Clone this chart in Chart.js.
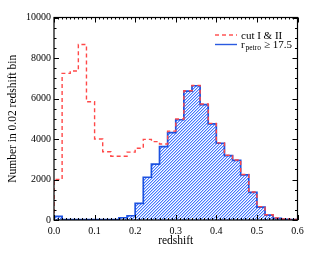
<!DOCTYPE html>
<html lang="en">
<head>
    <meta charset="UTF-8">
    <title>Redshift histogram</title>
    <script src="https://cdn.jsdelivr.net/npm/chart.js"></script>
    <style>
        body { margin: 0; background: #fff; }
    </style>
</head>
<body>
    <canvas id="chartCanvas" width="315" height="256"></canvas>

    <script>
        // left edges of the 0.02 redshift bins
        const binEdges = [0.00, 0.02, 0.04, 0.06, 0.08, 0.10, 0.12, 0.14, 0.16, 0.18,
                          0.20, 0.22, 0.24, 0.26, 0.28, 0.30, 0.32, 0.34, 0.36, 0.38,
                          0.40, 0.42, 0.44, 0.46, 0.48, 0.50, 0.52, 0.54, 0.56, 0.58];
        const binWidth = 0.02;

        // cut I & II (dashed red)
        const cutCounts = [2000, 7240, 7360, 8670, 5840, 4000, 3370, 3150, 3150, 3350,
                           3540, 3980, 3870, 3750, 4390, 4990, 6380, 6650, 5730, 4770,
                           3810, 3200, 2960, 2250, 1380, 660, 260, 100, 50, 30];

        // r_petro >= 17.5 (hatched blue)
        const petroCounts = [180, 20, 20, 20, 20, 20, 20, 20, 110, 210,
                             820, 2110, 2760, 3620, 4310, 4950, 6360, 6630, 5700, 4750,
                             3790, 3180, 2940, 2230, 1360, 640, 240, 80, 30, 15];

        const xTicks = [0, 0.1, 0.2, 0.3, 0.4, 0.5, 0.6];
        const yTicks = [0, 2000, 4000, 6000, 8000, 10000];

        // turn bin counts into a closed step outline
        function stepPoints(counts) {
            const pts = [{ x: binEdges[0], y: 0 }];
            binEdges.forEach((e, i) => pts.push({ x: e, y: counts[i] }));
            const end = binEdges[binEdges.length - 1] + binWidth;
            pts.push({ x: end, y: counts[counts.length - 1] });
            pts.push({ x: end, y: 0 });
            return pts;
        }

        // pixel diagonal hatch (3px period) for the blue histogram
        function makeHatch() {
            const c = document.createElement('canvas');
            c.width = 3; c.height = 3;
            const g = c.getContext('2d');
            for (let i = 0; i < 3; i++) {
                g.fillStyle = '#4478ff';
                g.fillRect(i, 2 - i, 1, 1);
                g.fillStyle = '#b4caff';
                g.fillRect(i, (3 - i) % 3, 1, 1);
            }
            return g.createPattern(c, 'repeat');
        }

        const serif = 'Liberation Serif';

        // box with inward ticks on all four sides
        const framePlugin = {
            id: 'frame',
            afterDatasetsDraw(chart) {
                const { ctx, chartArea: a, scales: { x, y } } = chart;
                ctx.save();
                ctx.strokeStyle = '#000';
                ctx.lineWidth = 1;
                ctx.beginPath();
                for (let i = 0; i <= 60; i++) {
                    const px = Math.round(x.getPixelForValue(i / 100)) + 0.5;
                    const len = i % 10 === 0 ? 5 : 2;
                    ctx.moveTo(px, a.bottom); ctx.lineTo(px, a.bottom - len);
                    ctx.moveTo(px, a.top); ctx.lineTo(px, a.top + len);
                }
                for (let v = 0; v <= 10000; v += 500) {
                    const py = Math.round(y.getPixelForValue(v)) + 0.5;
                    const len = v % 2000 === 0 ? 5 : 2.5;
                    ctx.moveTo(a.left, py); ctx.lineTo(a.left + len, py);
                    ctx.moveTo(a.right, py); ctx.lineTo(a.right - len, py);
                }
                ctx.stroke();
                ctx.lineWidth = 1.2;
                ctx.strokeRect(a.left, a.top, a.right - a.left, a.bottom - a.top);
                ctx.restore();
            }
        };

        // legend with subscript, drawn by hand
        const legendPlugin = {
            id: 'subLegend',
            afterDraw(chart) {
                const ctx = chart.ctx;
                ctx.save();
                ctx.lineWidth = 1.4;
                ctx.strokeStyle = '#ff5555';
                ctx.setLineDash([4, 3]);
                ctx.beginPath(); ctx.moveTo(215, 35); ctx.lineTo(237, 35); ctx.stroke();
                ctx.setLineDash([]);
                ctx.strokeStyle = '#2a5ae0';
                ctx.beginPath(); ctx.moveTo(215, 44.5); ctx.lineTo(237, 44.5); ctx.stroke();

                ctx.fillStyle = '#000';
                ctx.textBaseline = 'alphabetic';
                ctx.font = '11px "' + serif + '"';
                ctx.fillText('cut I & II', 241, 38.5);
                ctx.fillText('r', 241, 47.5);
                ctx.font = '7.5px "' + serif + '"';
                ctx.fillText('petro', 245.5, 50);
                ctx.font = '11px "' + serif + '"';
                ctx.fillText('\u2265 17.5', 264, 47.5);
                ctx.restore();
            }
        };

        const ctx = document.getElementById('chartCanvas').getContext('2d');

        const chart = new Chart(ctx, {
            type: 'line',
            data: {
                datasets: [{
                    label: 'cut I & II',
                    data: stepPoints(cutCounts),
                    borderColor: '#ff4848',
                    borderWidth: 1.4,
                    borderDash: [4, 3],
                    stepped: true,
                    fill: false,
                    pointRadius: 0
                }, {
                    label: 'r_petro >= 17.5',
                    data: stepPoints(petroCounts),
                    borderColor: '#1d52e0',
                    borderWidth: 1.7,
                    backgroundColor: makeHatch(),
                    stepped: true,
                    fill: 'origin',
                    pointRadius: 0
                }]
            },
            options: {
                responsive: false,
                animation: false,
                devicePixelRatio: 1,
                layout: { padding: { top: 17.5, right: 17.5, left: 0, bottom: 0 } },
                plugins: { legend: { display: false }, tooltip: { enabled: false } },
                scales: {
                    x: {
                        type: 'linear',
                        min: 0, max: 0.6,
                        grid: { display: false, drawTicks: false },
                        border: { display: false },
                        afterBuildTicks: s => { s.ticks = xTicks.map(v => ({ value: v })); },
                        afterFit: s => { s.height = 36; },
                        ticks: {
                            padding: 5,
                            color: '#000',
                            font: { family: serif, size: 10 },
                            callback: v => v.toFixed(1)
                        },
                        title: {
                            display: true,
                            text: 'redshift',
                            color: '#000',
                            font: { family: serif, size: 11.5 },
                            padding: { top: 0, bottom: 8 }
                        }
                    },
                    y: {
                        min: 0, max: 10000,
                        grid: { display: false, drawTicks: false },
                        border: { display: false },
                        afterBuildTicks: s => { s.ticks = yTicks.map(v => ({ value: v })); },
                        afterFit: s => { s.width = 54; },
                        ticks: {
                            padding: 3,
                            color: '#000',
                            font: { family: serif, size: 10 },
                            callback: v => String(v)
                        },
                        title: {
                            display: true,
                            text: 'Number in 0.02 redshift bin',
                            color: '#000',
                            font: { family: serif, size: 11.5 },
                            padding: { top: 6, bottom: 0 }
                        }
                    }
                }
            },
            plugins: [framePlugin, legendPlugin]
        });
    </script>
</body>
</html>
